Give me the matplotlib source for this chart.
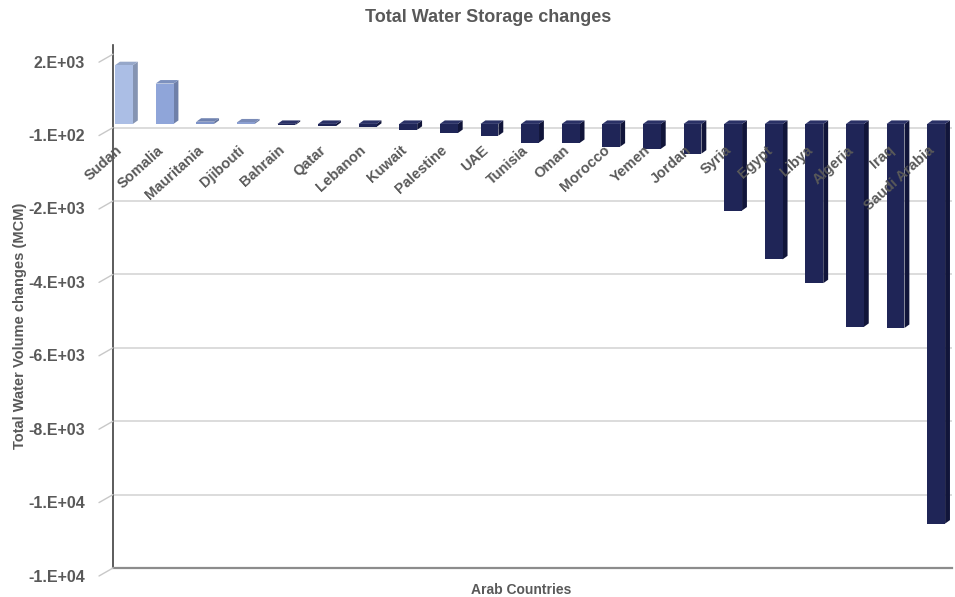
import matplotlib
matplotlib.use("Agg")
import matplotlib.pyplot as plt

plt.rcParams["font.family"] = ["Liberation Sans", "DejaVu Sans"]

# Total water storage change per country (million cubic metres)
countries = ["Sudan", "Somalia", "Mauritania", "Djibouti", "Bahrain", "Qatar",
             "Lebanon", "Kuwait", "Palestine", "UAE", "Tunisia", "Oman",
             "Morocco", "Yemen", "Jordan", "Syria", "Egypt", "Libya",
             "Algeria", "Iraq", "Saudi Arabia"]
changes = [1600, 1100, 60, 40, -30, -60, -80, -160, -250, -320, -510, -520,
           -620, -680, -810, -2360, -3690, -4340, -5530, -5560, -10890]
y_ticks = [1900, -100, -2100, -4100, -6100, -8100, -10100, -12100]

TEXT = "#595959"
GRID = "#d9d9d9"
# shades for gains (front faces) and losses
gain_front = ["#abbee5", "#8fa5d9", "#7f94c9", "#8b9fd1"]
loss_front, loss_side, loss_top = "#1f2557", "#11153a", "#2a3166"

fig = plt.figure(figsize=(9.55, 5.97), dpi=100)
ax = fig.add_axes([113 / 955, 1 - 568 / 597, (952 - 113) / 955, (568 - 45) / 597])

ax.set_xlim(-0.271, 20.39)
ax.set_ylim(y_ticks[-1], 2150)

# horizontal gridlines on the back wall (top one is left out)
for t in y_ticks[1:-1]:
    ax.axhline(t, color=GRID, lw=1.3, zorder=0)

w = 0.44    # front face width
dx = 0.12   # depth offset, x
dy = 95     # depth offset, y


def shade(hex_color, f):
    r, g, b = (int(hex_color[i:i + 2], 16) for i in (1, 3, 5))
    return "#%02x%02x%02x" % (int(r * f), int(g * f), int(b * f))


gi = 0
for i, v in enumerate(changes):
    if v >= 0:
        front = gain_front[gi % len(gain_front)]
        gi += 1
        side = shade(front, 0.78)
        top = shade(front, 0.88)
    else:
        front, side, top = loss_front, loss_side, loss_top
    xl, xr = i - w / 2, i + w / 2
    lo, hi = min(0, v), max(0, v)
    # right face
    ax.fill([xr, xr + dx, xr + dx, xr], [lo, lo + dy, hi + dy, hi],
            color=side, lw=0, zorder=2)
    # top face
    ax.fill([xl, xl + dx, xr + dx, xr], [hi, hi + dy, hi + dy, hi],
            color=top, lw=0, zorder=2)
    # front face
    ax.bar(i, hi - lo, bottom=lo, width=w, color=front, lw=0, zorder=3)

# category labels sit along the zero line
for i, name in enumerate(countries):
    ax.text(i - 0.2, -520, name, rotation=42, rotation_mode="anchor",
            ha="right", va="top", fontsize=10.5, fontweight="bold",
            color=TEXT, zorder=4)

ax.set_xticks([])
ax.set_yticks([])

# value labels sit on the front edge, joined to the wall by slanted ticks
for t in y_ticks:
    ax.annotate("", xy=(0, t), xycoords=("axes fraction", "data"),
                xytext=(-14, -8), textcoords="offset pixels",
                arrowprops=dict(arrowstyle="-", color="#c8c8c8", lw=1.0,
                                shrinkA=0, shrinkB=0),
                annotation_clip=False)
    ax.annotate(f"{t:#.0E}", xy=(0, t), xycoords=("axes fraction", "data"),
                xytext=(-28, -9), textcoords="offset pixels",
                ha="right", va="center", fontsize=11.5, fontweight="bold",
                color=TEXT, annotation_clip=False)

for s in ("top", "right"):
    ax.spines[s].set_visible(False)
ax.spines["left"].set_color("#404040")
ax.spines["left"].set_linewidth(1.2)
ax.spines["bottom"].set_color("#8c8c8c")
ax.spines["bottom"].set_linewidth(1.6)

fig.text(488 / 955, 1 - 17 / 597, "Total Water Storage changes",
         ha="center", va="center", fontsize=13, fontweight="bold", color=TEXT)
fig.text(521 / 955, 1 - 590 / 597, "Arab Countries",
         ha="center", va="center", fontsize=10, fontweight="bold", color=TEXT)
fig.text(20 / 955, 1 - 326 / 597, "Total Water Volume changes (MCM)",
         ha="center", va="center", rotation=90, fontsize=10.5,
         fontweight="bold", color=TEXT)

fig.savefig("out.png", dpi=100, facecolor="white")
